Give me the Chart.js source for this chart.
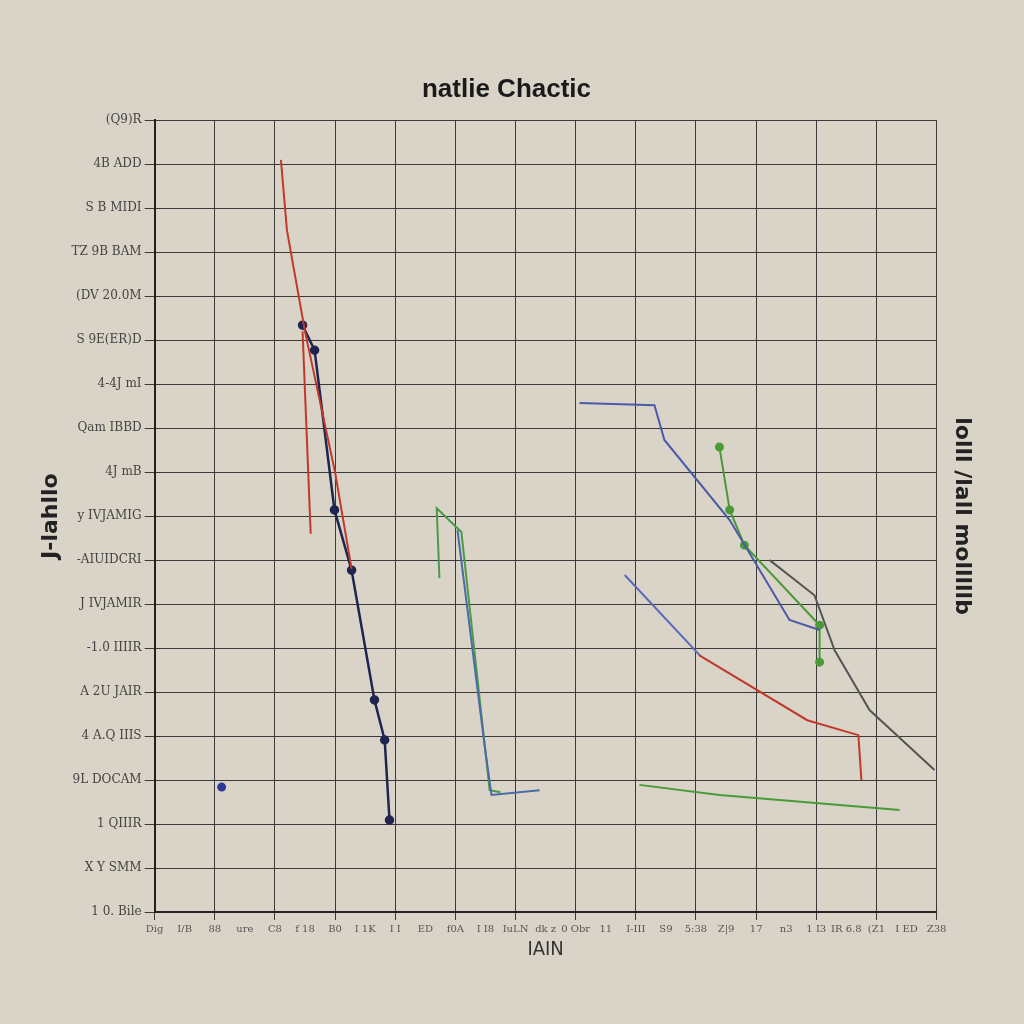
<!DOCTYPE html>
<html>
<head>
<meta charset="utf-8">
<script src="https://cdn.jsdelivr.net/npm/chart.js@4/dist/chart.umd.min.js"></script>
<style>
  html, body { margin: 0; padding: 0; background: #d9d4c7; }
  #wrap { width: 1024px; height: 1024px; }
</style>
</head>
<body>
<div id="wrap"><canvas id="mychart" width="1024" height="1024"></canvas></div>
<script>
// tick labels, top of the y axis first in the picture, so listed bottom-up here
var yLabels = ['1 0. Bile','X Y SMM','1 QIIIR','9L DOCAM','4 A.Q IIIS','A 2U JAIR','-1.0 IIIIR',
  'J IVJAMIR','-AIUIDCRI','y IVJAMIG','4J mB','Qam IBBD','4-4J mI','S 9E(ER)D','(DV 20.0M',
  'TZ 9B BAM','S B MIDI','4B ADD','(Q9)R'];
var xLabels = ['Dig','I/B','88','ure','C8','f 18','B0','I 1K','I I','ED','f0A','I I8','IuLN','dk z',
  '0 Obr','11','I-III','S9','5:38','Z|9','17','n3','1 I3','IR 6.8','(Z1','I ED','Z38'];

// series values (x, y in axis units)
var redA = [{x:4.2,y:17.1},{x:4.4,y:15.5},{x:5.0,y:13.2},{x:6.0,y:10.0},{x:6.55,y:7.8}];
var redB = [{x:4.92,y:13.2},{x:5.19,y:8.6}];
var redC = [{x:18.1,y:5.84},{x:21.7,y:4.36},{x:23.4,y:4.02},{x:23.5,y:3.0}];
var navy = [{x:4.92,y:13.34},{x:5.32,y:12.77},{x:5.98,y:9.14},{x:6.55,y:7.77},{x:7.31,y:4.82},{x:7.65,y:3.91},{x:7.81,y:2.09}];
var blueA = [{x:14.13,y:11.57},{x:16.62,y:11.52},{x:16.95,y:10.73},{x:19.12,y:8.91},{x:21.11,y:6.64},{x:22.11,y:6.41}];
var blueB = [{x:10.07,y:8.68},{x:10.97,y:3.8},{x:11.2,y:2.66},{x:12.8,y:2.77}];
var blueC = [{x:15.63,y:7.66},{x:18.12,y:5.84}];
var blueDot = [{x:2.23,y:2.84}];
var greenA = [{x:9.47,y:7.59},{x:9.38,y:9.18},{x:10.2,y:8.64},{x:11.14,y:2.77},{x:11.5,y:2.72}];
var greenB = [{x:18.78,y:10.57},{x:19.12,y:9.14},{x:19.61,y:8.34},{x:22.11,y:6.52},{x:22.11,y:5.68}];
var greenC = [{x:16.12,y:2.89},{x:18.78,y:2.66},{x:24.77,y:2.32}];
var gray = [{x:20.45,y:8.0},{x:21.94,y:7.2},{x:22.61,y:5.95},{x:23.77,y:4.59},{x:25.93,y:3.23}];

function line(data, color, dots, width) {
  return {
    data: data,
    borderColor: color,
    backgroundColor: color,
    borderWidth: width || 2,
    showLine: true,
    tension: 0,
    pointRadius: dots ? 3.5 : 0
  };
}

var bg = {
  id: 'bg',
  beforeDraw: function(c) {
    var ctx = c.ctx;
    ctx.save();
    ctx.fillStyle = '#d9d4c7';
    ctx.fillRect(0, 0, c.width, c.height);
    ctx.restore();
  }
};

var ctx = document.getElementById('mychart');
var myChart = new Chart(ctx, {
  type: 'scatter',
  data: {
    datasets: [
      line(redA, '#c0392b', false),
      line(redB, '#c0392b', false),
      line(redC, '#c0392b', false),
      line(navy, '#1f2450', true, 2.5),
      line(blueA, '#4a5aa8', false),
      line(blueB, '#4a6aa8', false),
      line(blueC, '#5a6ab8', false),
      line(blueDot, '#2a3a98', true),
      line(greenA, '#4a9a4a', false),
      line(greenB, '#4a9a3a', true),
      line(greenC, '#4a9a3a', false),
      line(gray, '#555555', false)
    ]
  },
  options: {
    responsive: false,
    animation: false,
    layout: { padding: { top: 74, left: 34, right: 45, bottom: 62 } },
    plugins: {
      legend: { display: false },
      tooltip: { enabled: false },
      title: {
        display: true,
        text: 'natlie Chactic',
        color: '#1a1a1a',
        font: { family: 'Liberation Sans', size: 26, weight: 'bold' },
        padding: { top: 0, bottom: 15 }
      }
    },
    scales: {
      x: {
        type: 'linear',
        min: 0, max: 26,
        ticks: {
          stepSize: 1,
          autoSkip: false,
          maxRotation: 0,
          color: '#555',
          font: { family: 'DejaVu Serif', size: 10 },
          callback: function(v) { return xLabels[v] || ''; }
        },
        grid: {
          color: function(c) { return c.tick && c.tick.value % 2 === 0 ? '#3a3a3a' : 'rgba(0,0,0,0)'; },
          lineWidth: 1,
          tickLength: 8
        },
        border: { color: '#222', width: 2 },
        title: { display: true, text: 'IAIN', color: '#333', font: { family: 'DejaVu Sans Condensed', size: 20 }, padding: 0 }
      },
      y: {
        min: 0, max: 18,
        ticks: {
          stepSize: 1,
          autoSkip: false,
          color: '#444',
          font: { family: 'DejaVu Serif', size: 12 },
          callback: function(v) { return yLabels[v] || ''; }
        },
        grid: { color: '#3a3a3a', lineWidth: 1, tickLength: 10 },
        border: { color: '#222', width: 2 },
        title: { display: true, text: 'J-lahllo', color: '#222', font: { family: 'DejaVu Sans', size: 22, weight: 'bold' } }
      },
      y2: {
        position: 'right',
        min: 0, max: 18,
        ticks: { display: false },
        grid: { display: false },
        border: { display: false },
        title: { display: true, text: 'lolll /lall molllllb', color: '#222', font: { family: 'DejaVu Sans', size: 22, weight: 'bold' } }
      }
    }
  },
  plugins: [bg]
});
</script>
</body>
</html>
